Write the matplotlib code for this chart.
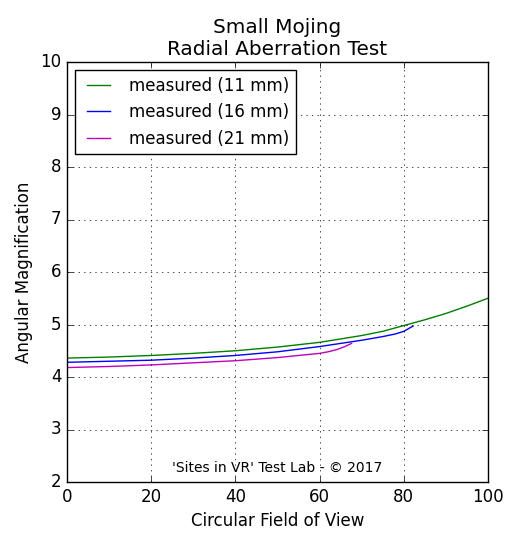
import matplotlib
matplotlib.use("Agg")
import matplotlib.pyplot as plt

plt.style.use("classic")

# field of view (deg) vs angular magnification
fov_11 = [0, 10, 20, 30, 40, 50, 60, 70, 75, 80, 85, 90, 95, 100]
mag_11 = [4.36, 4.38, 4.41, 4.45, 4.50, 4.57, 4.66, 4.79, 4.87, 4.98, 5.09, 5.21, 5.35, 5.50]
fov_16 = [0, 10, 20, 30, 40, 50, 60, 65, 70, 75, 78, 80, 82.2]
mag_16 = [4.28, 4.30, 4.32, 4.36, 4.41, 4.48, 4.58, 4.64, 4.70, 4.77, 4.82, 4.87, 4.97]
fov_21 = [0, 10, 20, 30, 40, 50, 60, 62, 64, 66, 67.6]
mag_21 = [4.18, 4.20, 4.23, 4.27, 4.31, 4.37, 4.45, 4.48, 4.52, 4.58, 4.64]

fig = plt.figure(figsize=(5.2, 5.49), dpi=100, facecolor="white")
ax = fig.add_axes([67/520, 1 - 482/549, 421/520, 420/549])

ax.plot(fov_11, mag_11, color="g", label="measured (11 mm)")
ax.plot(fov_16, mag_16, color="b", label="measured (16 mm)")
ax.plot(fov_21, mag_21, color="m", label="measured (21 mm)")

ax.set_xlim(0, 100)
ax.set_ylim(2, 10)
ax.grid(True)
ax.set_xlabel("Circular Field of View")
ax.set_ylabel("Angular Magnification")
ax.set_title("Small Mojing\nRadial Aberration Test", fontsize=14.4)
ax.legend(loc="upper left", fontsize=12)
ax.text(50, 2.2, "'Sites in VR' Test Lab - \u00a9 2017", ha="center", fontsize=10)

fig.savefig("out.png", dpi=100, facecolor="white")
